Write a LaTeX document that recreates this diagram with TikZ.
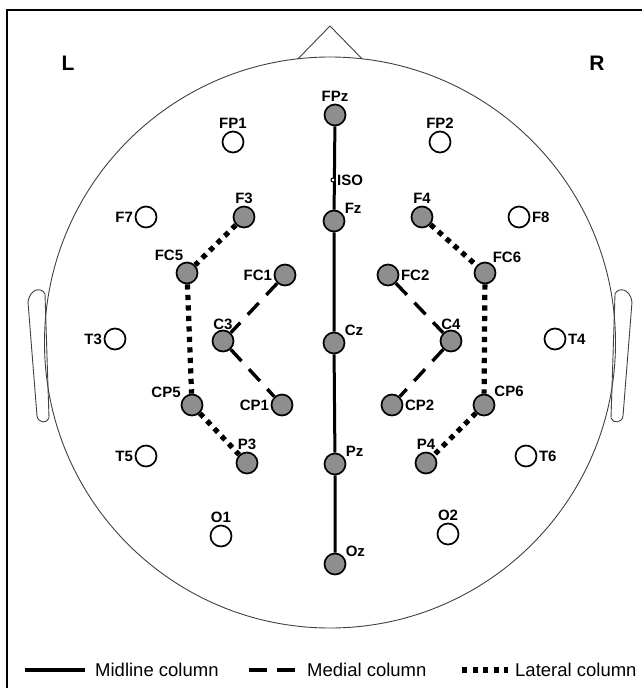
\documentclass[tikz,border=0pt]{standalone}
\usepackage{fontspec}
\setmainfont{Liberation Sans}
\usetikzlibrary{positioning}
\definecolor{elgray}{HTML}{8E8E8E}

\begin{document}
\begin{tikzpicture}[x=1pt,y=-1pt,
    el/.style={circle,draw=black,line width=1.7pt,minimum size=21pt,inner sep=0pt},
    act/.style={el,fill=elgray},
    pas/.style={el,fill=white},
    lbl/.style={font=\fontsize{15}{15}\selectfont\bfseries,inner sep=0.5pt},
    every label/.style={lbl},label distance=1pt,
    leg/.style={font=\fontsize{18.5}{18.5}\selectfont,inner sep=0pt,anchor=west},
    side/.style={font=\fontsize{21}{21}\selectfont\bfseries,inner sep=0pt},
    midline/.style={line width=3pt},
    medial/.style={line width=3.4pt,dash pattern=on 16pt off 11pt},
    lateral/.style={line width=5.2pt,dash pattern=on 5.2pt off 5.3pt},
    outline/.style={line width=0.9pt,draw=black!75}]

    \useasboundingbox (0,0) rectangle (642,688);

    % frame
    \draw[line width=2pt] (7,688) -- (7,10) -- (642,10);

    \node[side] (lside) at (68,63) {L};
    \node[side] (rside) at (597,63) {R};

    % head, nose, ears
    \draw[outline] (330,342.5) circle[radius=285.5pt];
    \draw[outline] (298,58.8) -- (330,26) -- (362,58.8);
    \draw[outline] (45,294) .. controls (42,287) and (30,288) .. (28,302) -- (37,416) .. controls (38,423) and (47,424) .. (49,418) -- cycle;
    \draw[outline] (615,294) .. controls (618,287) and (630,288) .. (632,302) -- (623,416) .. controls (622,423) and (613,424) .. (611,418) -- cycle;

    % electrodes
    \node[act,label=above:FPz] (FPz) at (335,115) {};
    \node[pas,label=above:FP1] (FP1) at (233,142) {};
    \node[pas,label=above:FP2] (FP2) at (440,142) {};

    \node[pas,label=left:F7] (F7) at (146,217) {};
    \node[act,label=above:F3] (F3) at (244,217) {};
    \node[act,label=35:Fz] (Fz) at (334,221) {};
    \node[act,label=above:F4] (F4) at (422,217) {};
    \node[pas,label=right:F8] (F8) at (519,217) {};

    \node[act,label=105:FC5] (FC5) at (187,273) {};
    \node[act,label=left:FC1] (FC1) at (285,275) {};
    \node[act,label=right:FC2] (FC2) at (388,275) {};
    \node[act,label=55:FC6] (FC6) at (485,273) {};

    \node[pas,label=left:T3] (T3) at (115,339) {};
    \node[act,label={[label distance=-1pt]above:C3}] (C3) at (223,341) {};
    \node[act,label=35:Cz] (Cz) at (334,343) {};
    \node[act,label={[label distance=-1pt]above:C4}] (C4) at (451,341) {};
    \node[pas,label=right:T4] (T4) at (555,339) {};

    \node[act,label=150:CP5] (CP5) at (192,405) {};
    \node[act,label=left:CP1] (CP1) at (282,405) {};
    \node[act,label=right:CP2] (CP2) at (392,405) {};
    \node[act,label=38:CP6] (CP6) at (484,405) {};

    \node[pas,label=left:T5] (T5) at (146,456) {};
    \node[act,label=above:P3] (P3) at (247,463) {};
    \node[act,label=35:Pz] (Pz) at (335,464) {};
    \node[act,label=above:P4] (P4) at (426,463) {};
    \node[pas,label=right:T6] (T6) at (526,456) {};

    \node[pas,label=above:O1] (O1) at (221,536) {};
    \node[pas,label=above:O2] (O2) at (448,534) {};
    \node[act,label=35:Oz] (Oz) at (335,564) {};

    % columns
    \draw[midline] (FPz) -- (Fz) -- (Cz) -- (Pz) -- (Oz);
    \draw[medial] (FC1) -- (C3) -- (CP1);
    \draw[medial] (FC2) -- (C4) -- (CP2);
    \draw[lateral] (F3) -- (FC5) -- (CP5) -- (P3);
    \draw[lateral] (F4) -- (FC6) -- (CP6) -- (P4);

    \node[circle,draw,line width=1pt,fill=white,minimum size=4pt,inner sep=0pt,label=right:ISO] (ISO) at (333,180) {};

    % legend
    \coordinate (sol1) at (25,670);
    \coordinate (sol2) at (85,670);
    \coordinate (dsh1) at (249,670);
    \coordinate (dsh2) at (295,670);
    \coordinate (dot1) at (462,670);
    \coordinate (dot2) at (508,670);
    \draw[midline,line width=3.2pt] (sol1) -- (sol2);
    \draw[medial,dash pattern=on 18pt off 10pt] (dsh1) -- (dsh2);
    \draw[lateral] (dot1) -- (dot2);
    \node[leg,right=10pt of sol2] (midtxt) {Midline column};
    \node[leg,right=12pt of dsh2] (medtxt) {Medial column};
    \node[leg,right=7pt of dot2] (lattxt) {Lateral column};
\end{tikzpicture}
\end{document}
